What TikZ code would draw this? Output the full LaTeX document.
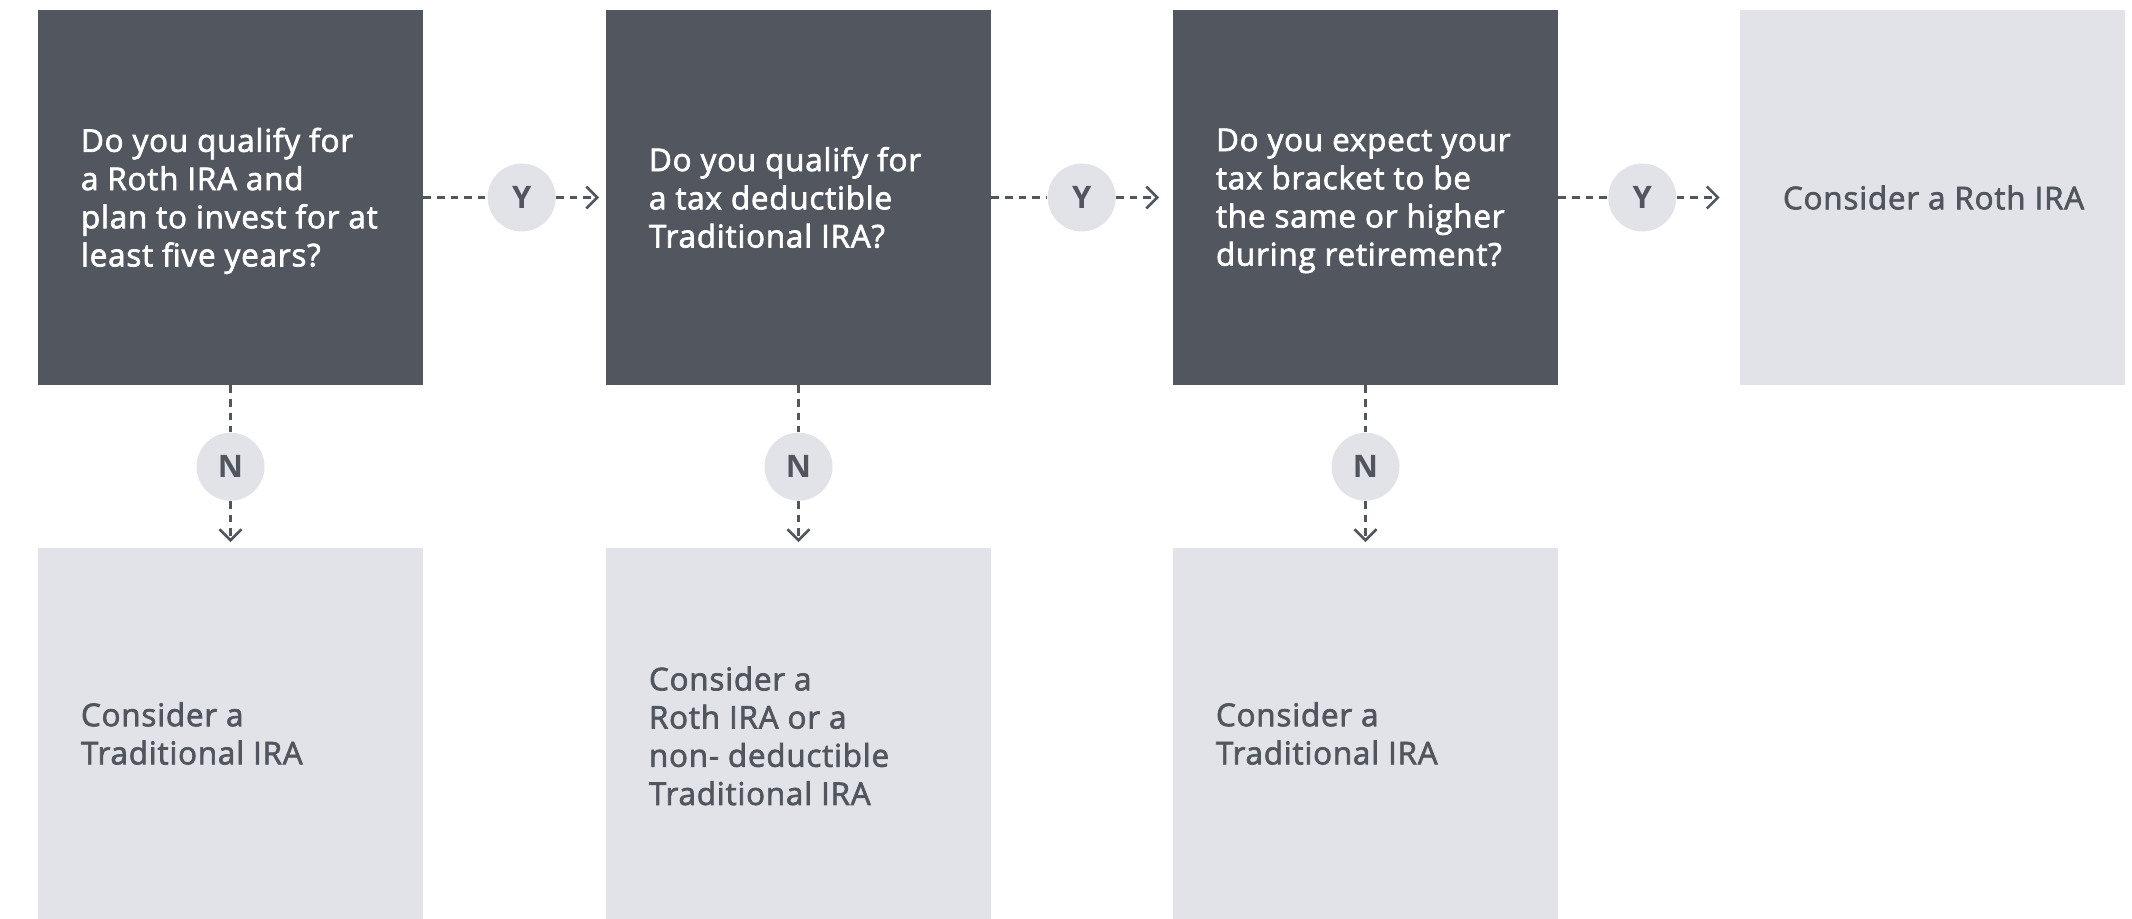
\documentclass[tikz,border=0pt]{standalone}
\usepackage{fontspec}
\setmainfont{Open Sans}[BoldFont={* Bold}]
\newfontfamily\semib{Open Sans}[FakeBold=2.2,LetterSpace=2.5]
\usetikzlibrary{arrows.meta,calc}
\definecolor{darkbox}{HTML}{52565F}
\definecolor{lightbox}{HTML}{E2E3E8}
\definecolor{inktext}{HTML}{51555E}
\tikzset{
  qbox/.style={rectangle,fill=darkbox,draw=none,minimum width=192.5pt,minimum height=187.5pt,inner sep=0pt},
  abox/.style={rectangle,fill=lightbox,draw=none,minimum width=192.5pt,minimum height=185.5pt,inner sep=0pt},
  qtext/.style={anchor=west,align=left,text=white,font=\semib\fontsize{15.7}{19.1}\selectfont,inner sep=0pt},
  atext/.style={anchor=west,align=left,text=inktext,font=\semib\fontsize{15.7}{19.1}\selectfont,inner sep=0pt},
  yn/.style={circle,fill=lightbox,draw=none,minimum size=34pt,inner sep=0pt,text=inktext,font=\bfseries\fontsize{15.5}{19}\selectfont},
  dline/.style={draw=inktext,line width=1.35pt,dash pattern=on 3.8pt off 3pt},
  darr/.style={dline,-{Straight Barb[length=5.5pt,width=11pt,line width=1.3pt]}}
}
\begin{document}
\begin{tikzpicture}[x=0.5pt,y=-0.5pt]
\useasboundingbox (0,0) rectangle (2132,919);
% top row
\node[qbox] (q1) at (230.5,197.5) {};
\node[qbox] (q2) at (798.5,197.5) {};
\node[qbox] (q3) at (1365.5,197.5) {};
\node[abox,minimum height=187.5pt] (a4) at (1932.5,197.5) {};
% bottom row
\node[abox] (a1) at (230.5,733.5) {};
\node[abox] (a2) at (798.5,733.5) {};
\node[abox] (a3) at (1365.5,733.5) {};
% texts
\node[qtext] (t1) at ($(q1.west)+(21.5pt,-1.7pt)$) {Do you qualify for\\a Roth IRA and\\plan to invest for at\\least five years?};
\node[qtext] (t2) at ($(q2.west)+(21.5pt,0)$) {Do you qualify for\\a tax deductible\\Traditional IRA?};
\node[qtext] (t3) at ($(q3.west)+(21.5pt,-1.7pt)$) {Do you expect your\\tax bracket to be\\the same or higher\\during retirement?};
\node[atext] (t4) at ($(a4.west)+(21.5pt,0)$) {Consider a Roth IRA};
\node[atext] (t5) at ($(a1.west)+(21.5pt,0)$) {Consider a\\Traditional IRA};
\node[atext] (t6) at ($(a2.west)+(21.5pt,-1.2pt)$) {Consider a\\Roth IRA or a\\non- deductible\\Traditional IRA};
\node[atext] (t7) at ($(a3.west)+(21.5pt,0)$) {Consider a\\Traditional IRA};
% Y circles
\node[yn] (y1) at (521.7,197.5) {Y};
\node[yn] (y2) at (1081.7,197.5) {Y};
\node[yn] (y3) at (1642.3,197.5) {Y};
% N circles
\node[yn] (n1) at (230.5,466.7) {N};
\node[yn] (n2) at (798.5,466.7) {N};
\node[yn] (n3) at (1365.5,466.7) {N};
% arrow ends
\coordinate (ey1) at ($(y1.east)+(21.5pt,0)$);
\coordinate (ey2) at ($(y2.east)+(21.5pt,0)$);
\coordinate (ey3) at ($(y3.east)+(21.5pt,0)$);
\coordinate (en1) at ($(n1.south)+(0,-20.5pt)$);
\coordinate (en2) at ($(n2.south)+(0,-20.5pt)$);
\coordinate (en3) at ($(n3.south)+(0,-20.5pt)$);
% connectors
\draw[dline] (q1.east) -- (y1.west);
\draw[darr] (y1.east) -- (ey1);
\draw[dline] (q2.east) -- (y2.west);
\draw[darr] (y2.east) -- (ey2);
\draw[dline] (q3.east) -- (y3.west);
\draw[darr] (y3.east) -- (ey3);
\draw[dline] (q1.south) -- (n1.north);
\draw[darr] (n1.south) -- (en1);
\draw[dline] (q2.south) -- (n2.north);
\draw[darr] (n2.south) -- (en2);
\draw[dline] (q3.south) -- (n3.north);
\draw[darr] (n3.south) -- (en3);
\end{tikzpicture}
\end{document}
